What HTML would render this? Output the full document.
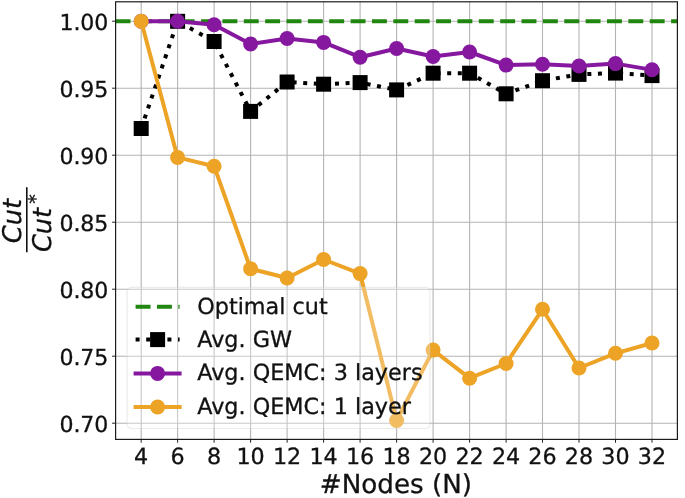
<!DOCTYPE html>
<html><head><meta charset="utf-8"><title>Cut ratio vs nodes</title>
<style>html,body{margin:0;padding:0;background:#fff}svg{will-change:transform;text-rendering:geometricPrecision}text{stroke:#111;stroke-width:.3px}</style></head>
<body>
<svg width="685" height="498" viewBox="0 0 685 498" style="display:block;font-family:'DejaVu Sans','Liberation Sans',sans-serif">
<rect width="685" height="498" fill="#fff"/>
<path d="M141.2 1.8V439.4M177.6 1.8V439.4M214.1 1.8V439.4M250.6 1.8V439.4M287.1 1.8V439.4M323.6 1.8V439.4M360.1 1.8V439.4M396.6 1.8V439.4M433.1 1.8V439.4M469.6 1.8V439.4M506.1 1.8V439.4M542.5 1.8V439.4M579.0 1.8V439.4M615.5 1.8V439.4M652.0 1.8V439.4M115.6 21.2H677.4M115.6 88.2H677.4M115.6 155.2H677.4M115.6 222.2H677.4M115.6 289.2H677.4M115.6 356.2H677.4M115.6 423.2H677.4" stroke="#b4b4b4" stroke-width="1.1" fill="none"/>
<clipPath id="c"><rect x="115.6" y="1.8" width="561.8" height="437.59999999999997"/></clipPath>
<g clip-path="url(#c)">
<path d="M115.6 21.2H677.4" stroke="#21860f" stroke-width="4.03" stroke-dasharray="14.92 6.445" fill="none"/>
<polyline points="141.2,128.5 177.6,21.3 214.1,41.5 250.6,111.4 287.1,82.0 323.6,84.2 360.1,82.6 396.6,89.9 433.1,73.2 469.6,73.2 506.1,93.8 542.5,80.7 579.0,74.4 615.5,73.1 652.0,75.6" stroke="#000" stroke-width="4" stroke-dasharray="4 6.6" fill="none" stroke-linejoin="round"/>
<rect x="133.7" y="121.0" width="15" height="15" fill="#000"/>
<rect x="170.1" y="13.8" width="15" height="15" fill="#000"/>
<rect x="206.6" y="34.0" width="15" height="15" fill="#000"/>
<rect x="243.1" y="103.9" width="15" height="15" fill="#000"/>
<rect x="279.6" y="74.5" width="15" height="15" fill="#000"/>
<rect x="316.1" y="76.7" width="15" height="15" fill="#000"/>
<rect x="352.6" y="75.1" width="15" height="15" fill="#000"/>
<rect x="389.1" y="82.4" width="15" height="15" fill="#000"/>
<rect x="425.6" y="65.7" width="15" height="15" fill="#000"/>
<rect x="462.1" y="65.7" width="15" height="15" fill="#000"/>
<rect x="498.6" y="86.3" width="15" height="15" fill="#000"/>
<rect x="535.0" y="73.2" width="15" height="15" fill="#000"/>
<rect x="571.5" y="66.9" width="15" height="15" fill="#000"/>
<rect x="608.0" y="65.6" width="15" height="15" fill="#000"/>
<rect x="644.5" y="68.1" width="15" height="15" fill="#000"/>
<polyline points="141.2,21.2 177.6,21.2 214.1,24.7 250.6,44.0 287.1,38.5 323.6,42.4 360.1,57.2 396.6,48.5 433.1,56.5 469.6,52.0 506.1,65.1 542.5,64.3 579.0,66.0 615.5,63.6 652.0,69.8" stroke="#86189f" stroke-width="4.0" fill="none" stroke-linejoin="round" stroke-linecap="square"/>
<circle cx="141.2" cy="21.2" r="7.5" fill="#86189f"/>
<circle cx="177.6" cy="21.2" r="7.5" fill="#86189f"/>
<circle cx="214.1" cy="24.7" r="7.5" fill="#86189f"/>
<circle cx="250.6" cy="44.0" r="7.5" fill="#86189f"/>
<circle cx="287.1" cy="38.5" r="7.5" fill="#86189f"/>
<circle cx="323.6" cy="42.4" r="7.5" fill="#86189f"/>
<circle cx="360.1" cy="57.2" r="7.5" fill="#86189f"/>
<circle cx="396.6" cy="48.5" r="7.5" fill="#86189f"/>
<circle cx="433.1" cy="56.5" r="7.5" fill="#86189f"/>
<circle cx="469.6" cy="52.0" r="7.5" fill="#86189f"/>
<circle cx="506.1" cy="65.1" r="7.5" fill="#86189f"/>
<circle cx="542.5" cy="64.3" r="7.5" fill="#86189f"/>
<circle cx="579.0" cy="66.0" r="7.5" fill="#86189f"/>
<circle cx="615.5" cy="63.6" r="7.5" fill="#86189f"/>
<circle cx="652.0" cy="69.8" r="7.5" fill="#86189f"/>
<polyline points="141.2,21.2 177.6,157.4 214.1,166.2 250.6,268.8 287.1,278.0 323.6,259.5 360.1,273.6 396.6,420.5 433.1,350.1 469.6,378.2 506.1,363.5 542.5,309.3 579.0,368.0 615.5,353.3 652.0,343.0" stroke="#eda426" stroke-width="4.0" fill="none" stroke-linejoin="round" stroke-linecap="square"/>
<circle cx="141.2" cy="21.2" r="7.5" fill="#eda426"/>
<circle cx="177.6" cy="157.4" r="7.5" fill="#eda426"/>
<circle cx="214.1" cy="166.2" r="7.5" fill="#eda426"/>
<circle cx="250.6" cy="268.8" r="7.5" fill="#eda426"/>
<circle cx="287.1" cy="278.0" r="7.5" fill="#eda426"/>
<circle cx="323.6" cy="259.5" r="7.5" fill="#eda426"/>
<circle cx="360.1" cy="273.6" r="7.5" fill="#eda426"/>
<circle cx="396.6" cy="420.5" r="7.5" fill="#eda426"/>
<circle cx="433.1" cy="350.1" r="7.5" fill="#eda426"/>
<circle cx="469.6" cy="378.2" r="7.5" fill="#eda426"/>
<circle cx="506.1" cy="363.5" r="7.5" fill="#eda426"/>
<circle cx="542.5" cy="309.3" r="7.5" fill="#eda426"/>
<circle cx="579.0" cy="368.0" r="7.5" fill="#eda426"/>
<circle cx="615.5" cy="353.3" r="7.5" fill="#eda426"/>
<circle cx="652.0" cy="343.0" r="7.5" fill="#eda426"/>
</g>
<rect x="115.6" y="1.8" width="561.8" height="437.59999999999997" fill="none" stroke="#1c1c1c" stroke-width="1.2"/>
<path d="M141.2 439.4v3.3M177.6 439.4v3.3M214.1 439.4v3.3M250.6 439.4v3.3M287.1 439.4v3.3M323.6 439.4v3.3M360.1 439.4v3.3M396.6 439.4v3.3M433.1 439.4v3.3M469.6 439.4v3.3M506.1 439.4v3.3M542.5 439.4v3.3M579.0 439.4v3.3M615.5 439.4v3.3M652.0 439.4v3.3M115.6 21.2h-3.5M115.6 88.2h-3.5M115.6 155.2h-3.5M115.6 222.2h-3.5M115.6 289.2h-3.5M115.6 356.2h-3.5M115.6 423.2h-3.5" stroke="#222" stroke-width="1.0" fill="none"/>
<g font-size="22.25" fill="#111">
<text x="141.2" y="463.6" text-anchor="middle">4</text>
<text x="177.6" y="463.6" text-anchor="middle">6</text>
<text x="214.1" y="463.6" text-anchor="middle">8</text>
<text x="250.6" y="463.6" text-anchor="middle">10</text>
<text x="287.1" y="463.6" text-anchor="middle">12</text>
<text x="323.6" y="463.6" text-anchor="middle">14</text>
<text x="360.1" y="463.6" text-anchor="middle">16</text>
<text x="396.6" y="463.6" text-anchor="middle">18</text>
<text x="433.1" y="463.6" text-anchor="middle">20</text>
<text x="469.6" y="463.6" text-anchor="middle">22</text>
<text x="506.1" y="463.6" text-anchor="middle">24</text>
<text x="542.5" y="463.6" text-anchor="middle">26</text>
<text x="579.0" y="463.6" text-anchor="middle">28</text>
<text x="615.5" y="463.6" text-anchor="middle">30</text>
<text x="652.0" y="463.6" text-anchor="middle">32</text>
<text x="108.0" y="30.0" text-anchor="end" font-size="22.1" letter-spacing="-0.2">1.00</text>
<text x="108.0" y="97.0" text-anchor="end" font-size="22.1" letter-spacing="-0.2">0.95</text>
<text x="108.0" y="164.0" text-anchor="end" font-size="22.1" letter-spacing="-0.2">0.90</text>
<text x="108.0" y="231.0" text-anchor="end" font-size="22.1" letter-spacing="-0.2">0.85</text>
<text x="108.0" y="298.0" text-anchor="end" font-size="22.1" letter-spacing="-0.2">0.80</text>
<text x="108.0" y="365.0" text-anchor="end" font-size="22.1" letter-spacing="-0.2">0.75</text>
<text x="108.0" y="432.0" text-anchor="end" font-size="22.1" letter-spacing="-0.2">0.70</text>
</g>
<text x="395.9" y="492.9" font-size="26.2" text-anchor="middle" fill="#111">#Nodes (N)</text>
<g font-style="oblique" fill="#111">
<text transform="translate(21.3 221.0) rotate(-90)" font-size="25.7" text-anchor="middle" font-style="italic">Cut</text>
<text transform="translate(51.4 252.1) rotate(-90)" font-size="25.7" font-style="italic">Cut</text>
<text transform="translate(42.0 203.8) rotate(-90)" font-size="19" font-style="normal">*</text>
</g>
<path d="M26.8 187.2V252.3" stroke="#111" stroke-width="1.6"/>
<rect x="127.1" y="287.3" width="302.8" height="141.2" rx="4.4" fill="#fff" fill-opacity="0.28" stroke="#ccc" stroke-opacity="0.38" stroke-width="1.2"/>
<path d="M135.6 306.7H179.6" stroke="#21860f" stroke-width="4.03" stroke-dasharray="14.92 6.445"/>
<path d="M135.6 339.6H179.6" stroke="#000" stroke-width="4" stroke-dasharray="4 6.6"/>
<rect x="150.1" y="332.1" width="15" height="15" fill="#000"/>
<path d="M135.6 373.4H179.6" stroke="#86189f" stroke-width="4.0" stroke-linecap="square"/>
<circle cx="157.6" cy="373.4" r="7.5" fill="#86189f"/>
<path d="M135.6 407.0H179.6" stroke="#eda426" stroke-width="4.0" stroke-linecap="square"/>
<circle cx="157.6" cy="407.0" r="7.5" fill="#eda426"/>
<g font-size="22.3" fill="#111">
<text x="197.2" y="314.0">Optimal cut</text>
<text x="197.2" y="346.8">Avg. GW</text>
<text x="197.2" y="380.3">Avg. QEMC: 3 layers</text>
<text x="197.2" y="414.2">Avg. QEMC: 1 layer</text>
</g>
</svg>
</body></html>
